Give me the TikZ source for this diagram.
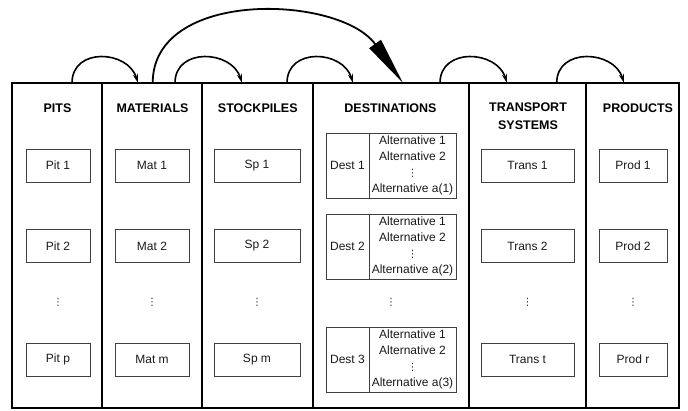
\documentclass[tikz,border=0pt]{standalone}
\usepackage{fontspec}
\setmainfont{Liberation Sans}
\newfontfamily\djv{DejaVu Sans}
\newcommand\vdt{{\djv\fontsize{10}{10}\selectfont ⋮}}
\usetikzlibrary{arrows.meta}
\begin{document}
\begin{tikzpicture}[x=1pt,y=-1pt,
  col/.style={draw, line width=1.6pt, inner sep=0pt, outer sep=0pt, anchor=north west, minimum height=325pt},
  hdr/.style={font=\fontsize{12.5}{18}\selectfont\bfseries, align=center, inner sep=0pt},
  item/.style={draw=black!75, line width=0.8pt, inner sep=0pt, minimum height=33pt, font=\fontsize{12}{14}\selectfont, text=black!90},
  dest/.style={draw=black!75, line width=0.8pt, inner sep=0pt, minimum height=65pt, font=\fontsize{12}{16}\selectfont, text=black!90, align=center},
  dots/.style={inner sep=0pt, text=black!85},
  arch/.style={line width=1.6pt, -{Stealth[length=9pt,width=5pt]}},
  bigarc/.style={line width=1.8pt, -{Triangle[length=48pt,width=14pt]}},
]
\useasboundingbox (0,0) rectangle (688,410);

% columns
\node[col, minimum width=90pt]  (cP) at (12,83) {};
\node[col, minimum width=100pt] (cM) at (102,83) {};
\node[col, minimum width=111pt] (cS) at (202,83) {};
\node[col, minimum width=156pt] (cD) at (313,83) {};
\node[col, minimum width=117pt] (cT) at (469,83) {};
\node[col, minimum width=93pt]  (cR) at (586,83) {};

% headers
\node[hdr] (hP) at (57.5,108) {PITS};
\node[hdr] (hM) at (152.5,108) {MATERIALS};
\node[hdr] (hS) at (257.8,108) {STOCKPILES};
\node[hdr] (hD) at (390.5,108) {DESTINATIONS};
\node[hdr] (hT) at (528,116) {TRANSPORT\\SYSTEMS};
\node[hdr] (hR) at (638,108) {PRODUCTS};

% pits
\node[item, minimum width=64pt] (p1) at (58,165.5) {Pit 1};
\node[item, minimum width=64pt] (p2) at (58,246) {Pit 2};
\node[dots] (pd) at (58,302) {\vdt};
\node[item, minimum width=64pt] (pp) at (58,359.5) {Pit p};
% materials
\node[item, minimum width=74pt] (m1) at (152,165.5) {Mat 1};
\node[item, minimum width=74pt] (m2) at (152,246) {Mat 2};
\node[dots] (md) at (152,302) {\vdt};
\node[item, minimum width=74pt] (mm) at (152,359.5) {Mat m};
% stockpiles
\node[item, minimum width=86pt] (s1) at (257,165.5) {Sp 1};
\node[item, minimum width=86pt] (s2) at (257,246) {Sp 2};
\node[dots] (sd) at (257,302) {\vdt};
\node[item, minimum width=86pt] (sm) at (257,359.5) {Sp m};
% destinations
\node[dest, minimum width=43pt] (d1) at (347.5,165.5) {Dest 1};
\node[dest, minimum width=87pt] (a1) at (412.5,165.5) {Alternative 1\\Alternative 2\\\vdt\\Alternative a(1)};
\node[dest, minimum width=43pt] (d2) at (347.5,246.5) {Dest 2};
\node[dest, minimum width=87pt] (a2) at (412.5,246.5) {Alternative 1\\Alternative 2\\\vdt\\Alternative a(2)};
\node[dots] (dd) at (391,302) {\vdt};
\node[dest, minimum width=43pt] (d3) at (347.5,359.5) {Dest 3};
\node[dest, minimum width=87pt] (a3) at (412.5,359.5) {Alternative 1\\Alternative 2\\\vdt\\Alternative a(3)};
% transport
\node[item, minimum width=93pt] (t1) at (527.5,165.5) {Trans 1};
\node[item, minimum width=93pt] (t2) at (527.5,246) {Trans 2};
\node[dots] (td) at (527.5,302) {\vdt};
\node[item, minimum width=93pt] (tt) at (527.5,359.5) {Trans t};
% products
\node[item, minimum width=68pt] (r1) at (633,165.5) {Prod 1};
\node[item, minimum width=68pt] (r2) at (633,246) {Prod 2};
\node[dots] (rd) at (633,302) {\vdt};
\node[item, minimum width=68pt] (rr) at (633,359.5) {Prod r};

% connector end points on the top edge
\coordinate (a1s) at (72,83);    \coordinate (a1e) at (138,83);
\coordinate (a2s) at (175,83);   \coordinate (a2e) at (242,83);
\coordinate (a3s) at (287,83);   \coordinate (a3e) at (353,83);
\coordinate (a4s) at (440,83);   \coordinate (a4e) at (507,83);
\coordinate (a5s) at (556.7,83); \coordinate (a5e) at (624,83);
\coordinate (bs) at (152.7,83);  \coordinate (be) at (403,83);

\draw[arch] (a1s) .. controls +(0,-36) and +(-10,-33) .. (a1e);
\draw[arch] (a2s) .. controls +(0,-36) and +(-10,-33) .. (a2e);
\draw[arch] (a3s) .. controls +(0,-36) and +(-10,-33) .. (a3e);
\draw[arch] (a4s) .. controls +(0,-36) and +(-10,-33) .. (a4e);
\draw[arch] (a5s) .. controls +(0,-36) and +(-10,-33) .. (a5e);
\draw[bigarc] (bs) .. controls +(0,-95) and +(-63,-88) .. (be);
\end{tikzpicture}
\end{document}
